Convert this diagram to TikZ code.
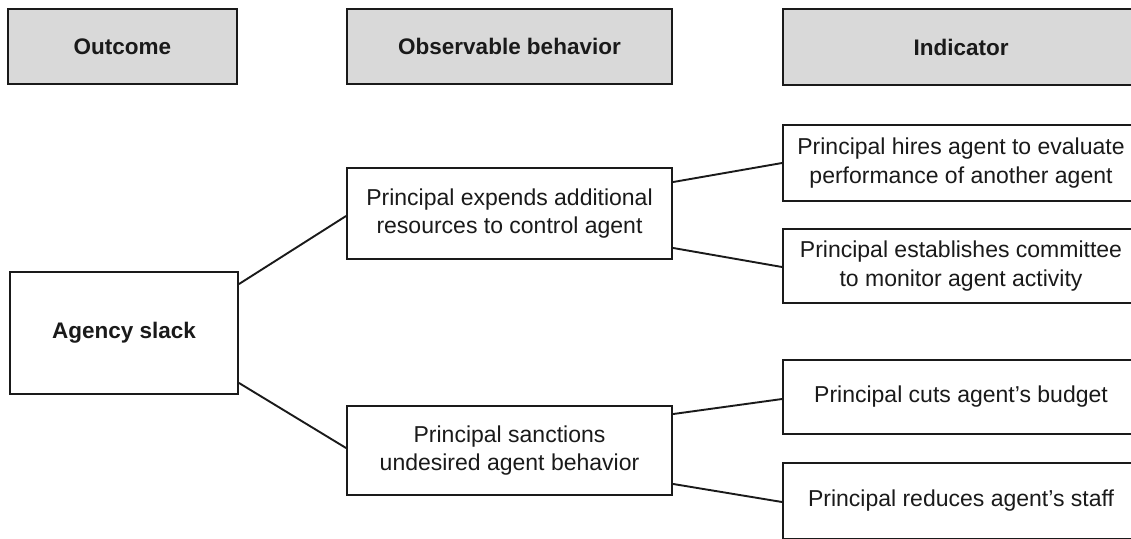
\documentclass[tikz,border=0pt]{standalone}
\usepackage{fontspec}
\setmainfont{Liberation Sans}
\usetikzlibrary{calc}
\definecolor{hdrgray}{HTML}{D9D9D9}
\definecolor{ink}{HTML}{1A1A1A}
\tikzset{
  box/.style={draw=ink, line width=1.9pt, rectangle, inner sep=0pt, align=center,
    text=ink, font=\fontsize{23}{28.5}\selectfont, fill=white},
  hdr/.style={box, fill=hdrgray, font=\fontsize{22.5}{28}\selectfont\bfseries},
  link/.style={draw=ink, line width=1.9pt},
}
\begin{document}
\begin{tikzpicture}[x=1pt,y=-1pt]
\useasboundingbox (0,0) rectangle (1131,538);
\clip (0,0) rectangle (1131,538);
% headers
\node[hdr, minimum width=229, minimum height=75] (outcome) at (122.5,46.5) {Outcome};
\node[hdr, minimum width=325, minimum height=75] (observ) at (509.5,46.5) {Observable behavior};
\node[hdr, minimum width=356, minimum height=76] (indic) at (961,47) {Indicator};
% outcome
\node[box, minimum width=228, minimum height=122, font=\fontsize{22.5}{28}\selectfont\bfseries] (agency) at (124,333) {Agency slack};
% behaviours
\node[box, minimum width=325, minimum height=91] (expends) at (509.5,213.5) {Principal expends additional\\resources to control agent};
\node[box, minimum width=325, minimum height=89] (sanctions) at (509.5,450.5) {Principal sanctions\\undesired agent behavior};
% indicators
\node[box, minimum width=356, minimum height=76] (hires) at (961,163) {Principal hires agent to evaluate\\performance of another agent};
\node[box, minimum width=356, minimum height=74] (establish) at (961,266) {Principal establishes committee\\to monitor agent activity};
\node[box, minimum width=356, minimum height=74] (cuts) at (961,397) {Principal cuts agent’s budget};
\node[box, minimum width=356, minimum height=76] (reduces) at (961,501) {Principal reduces agent’s staff};
% connectors
\draw[link] ($(agency.north east)+(0,13)$) -- ($(expends.west)+(0,2.5)$);
\draw[link] ($(agency.south east)+(0,-12)$) -- ($(sanctions.west)+(0,-2.5)$);
\draw[link] ($(expends.north east)+(0,15)$) -- (hires.west);
\draw[link] ($(expends.south east)+(0,-12)$) -- ($(establish.west)+(0,1)$);
\draw[link] ($(sanctions.north east)+(0,9)$) -- ($(cuts.west)+(0,2)$);
\draw[link] ($(sanctions.south east)+(0,-12)$) -- ($(reduces.west)+(0,1)$);
\end{tikzpicture}
\end{document}
